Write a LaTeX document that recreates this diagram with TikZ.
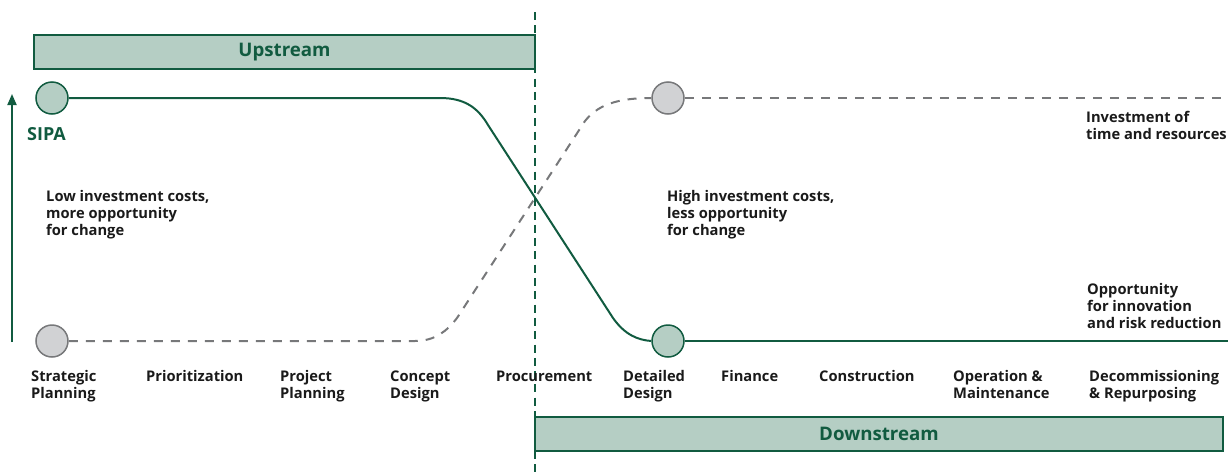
\documentclass[tikz,border=0pt]{standalone}
\usepackage{fontspec}
\setmainfont{Open Sans}
\usetikzlibrary{arrows.meta}
\definecolor{sgreen}{HTML}{115B40}
\definecolor{sfill}{HTML}{B5CEC4}
\definecolor{sgray}{HTML}{77787A}
\definecolor{gfill}{HTML}{D1D2D4}
\definecolor{ink}{HTML}{1A1A1A}
\begin{document}
\begin{tikzpicture}[x=1pt,y=-1pt,
  band/.style={draw=sgreen,line width=2pt,fill=sfill,minimum height=34pt,inner sep=0pt,
    text=sgreen,font=\bfseries\fontsize{18.7}{20}\selectfont},
  greendot/.style={circle,draw=sgreen,line width=1.5pt,fill=sfill,minimum size=32pt,inner sep=0pt},
  graydot/.style={circle,draw=sgray,line width=1.5pt,fill=gfill,minimum size=32pt,inner sep=0pt},
  note/.style={anchor=base west,align=left,inner sep=0pt,text=ink,
    font=\bfseries\fontsize{14.7}{17}\selectfont},
  stage/.style={note},
  greenline/.style={draw=sgreen,line width=2pt},
  grayline/.style={draw=sgray,line width=2pt,dash pattern=on 9pt off 8pt},
  divider/.style={draw=sgreen,line width=2pt,dash pattern=on 8pt off 5.3pt}]
\useasboundingbox (0,0) rectangle (1228,474);

% upstream / downstream bands
\node[band,minimum width=501pt] (up) at (284.5,52) {Upstream};
\node[band,minimum width=688pt] (down) at (879,434) {Downstream};

% phase divider
\coordinate (divtop) at (535,12);
\coordinate (divbot) at (535,474);
\draw[divider] (divtop) -- (divbot);

% markers
\node[greendot] (g1) at (52,98) {};
\node[greendot] (g2) at (668,341) {};
\node[graydot] (r1) at (52,341) {};
\node[graydot] (r2) at (668,98) {};

% investment curve
\coordinate (rend) at (1228,98);
\draw[grayline] (r1.east) -- (415,341) .. controls (435,341) and (447,331) .. (457,318)
  -- (585,121) .. controls (597,106) and (615,98) .. (r2.west);
\draw[grayline] (r2.east) -- (rend);

% opportunity curve
\coordinate (gend) at (1228,341);
\draw[greenline] (g1.east) -- (440,98) .. controls (465,98) and (478,108) .. (488,125)
  -- (613,318) .. controls (625,335) and (638,340) .. (g2.west);
\draw[greenline] (g2.east) -- (gend);

% axis arrow
\coordinate (abot) at (12,342);
\coordinate (atop) at (12,94);
\draw[sgreen,line width=2pt,-{Triangle[length=11pt,width=9pt]}] (abot) -- (atop);
\node[anchor=base west,inner sep=0pt,text=sgreen,font=\bfseries\fontsize{18}{20}\selectfont]
  (sipa) at (27,140) {SIPA};

% annotations (anchored at the baseline of their last line)
\node[note] (low) at (46,235) {Low investment costs,\\more opportunity\\for change};
\node[note] (high) at (667,235) {High investment costs,\\less opportunity\\for change};
\node[note] (inv) at (1086,139) {Investment of\\time and resources};
\node[note] (opp) at (1087,328) {Opportunity\\for innovation\\and risk reduction};

% project stages
\node[stage] (s1) at (31,398) {Strategic\\Planning};
\node[stage] (s2) at (146,381) {Prioritization};
\node[stage] (s3) at (280,398) {Project\\Planning};
\node[stage] (s4) at (390,398) {Concept\\Design};
\node[stage] (s5) at (496,381) {Procurement};
\node[stage] (s6) at (623,398) {Detailed\\Design};
\node[stage] (s7) at (721,381) {Finance};
\node[stage] (s8) at (819,381) {Construction};
\node[stage] (s9) at (953,398) {Operation \&\\Maintenance};
\node[stage] (s10) at (1089,398) {Decommissioning\\\& Repurposing};
\end{tikzpicture}
\end{document}
